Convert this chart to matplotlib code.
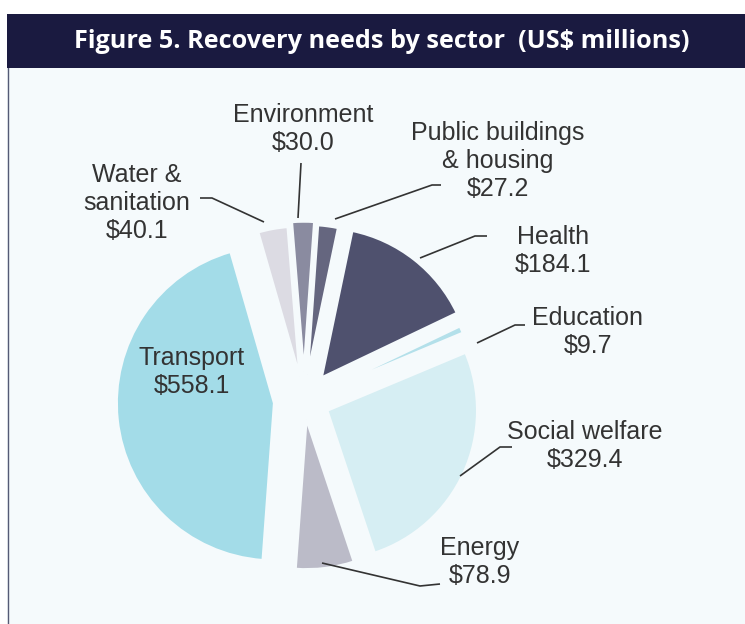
import matplotlib

matplotlib.use("Agg")

import matplotlib.pyplot as plt
from matplotlib.patches import Rectangle

# Recovery needs by sector, US$ millions (clockwise from 12 o'clock)
sectors = [
    "Public buildings\n& housing",
    "Health",
    "Education",
    "Social welfare",
    "Energy",
    "Transport",
    "Water &\nsanitation",
    "Environment",
]
needs = [27.2, 184.1, 9.7, 329.4, 78.9, 558.1, 40.1, 30.0]
colors = [
    "#65667f",
    "#4f516e",
    "#b3e0ea",
    "#d6eef3",
    "#bbbbc8",
    "#a3dce8",
    "#dcdbe3",
    "#8a8ba0",
]
explode = [0.17, 0.19, 0.15, 0.17, 0.13, 0.2, 0.16, 0.19]

W, H = 745, 624
BG = "#f5fafc"
NAVY = "#1a1a40"
INK = "#333333"
RADIUS = 150


def py(y):
    # pixel rows are counted from the top
    return H - y


fig = plt.figure(figsize=(W / 100, H / 100), dpi=100, facecolor="white")
ax = fig.add_axes((0, 0, 1, 1))

# pie() offsets wedges in data units, so scale the explode fractions
wedges, _ = ax.pie(
    needs,
    colors=colors,
    explode=[e * RADIUS for e in explode],
    radius=RADIUS,
    center=(304, py(400)),
    startangle=86,
    counterclock=False,
    wedgeprops={"linewidth": 1.8, "edgecolor": BG},
)
# the transport slice is drawn a little larger than the rest
wedges[5].set_radius(RADIUS * 1.05)

ax.set_aspect("auto")
ax.set_xlim(0, W)
ax.set_ylim(0, H)
ax.set_axis_off()

# panel and header bar
ax.add_patch(Rectangle((7, 0), W, py(68), facecolor=BG, edgecolor="none", zorder=-3))
ax.plot([7.5, 7.5], [0, py(68)], color="#555a75", lw=1.0, zorder=-2)
ax.add_patch(Rectangle((7, py(68)), W, 54, facecolor=NAVY, edgecolor="none", zorder=-2))
ax.text(
    382, py(41), "Figure 5. Recovery needs by sector  (US$ millions)",
    color="white", fontsize=18.2, fontweight="bold", family="Open Sans",
    ha="center", va="center",
)

label_style = {"fontsize": 18, "family": "Liberation Sans", "color": INK,
               "ha": "center", "va": "center", "linespacing": 1.2}

# (text x, text y, leader polyline) per sector, in pixels
placements = {
    0: (498, 161, [(335, 219), (432, 185), (441, 185)]),
    1: (553, 251, [(420, 258), (475, 236), (487, 236)]),
    2: (588, 332, [(477, 343), (515, 325), (525, 325)]),
    3: (585, 446, [(460, 476), (500, 447), (512, 447)]),
    4: (480, 562, [(322, 563), (420, 586), (440, 584)]),
    6: (137, 203, [(200, 198), (212, 198), (264, 222)]),
    7: (303, 129, [(301, 163), (298, 218)]),
}

for i, (tx, ty, leader) in placements.items():
    ax.text(tx, py(ty), f"{sectors[i]}\n${needs[i]:.1f}", **label_style)
    xs = [p[0] for p in leader]
    ys = [py(p[1]) for p in leader]
    ax.plot(xs, ys, color=INK, lw=1.2, solid_capstyle="butt")

ax.text(192, py(372), f"{sectors[5]}\n${needs[5]:.1f}", **label_style)

fig.savefig("out.png", dpi=100, facecolor="white")
